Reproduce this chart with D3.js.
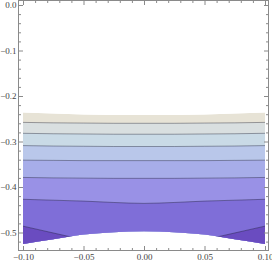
<!DOCTYPE html>
<html lang="en">
<head>
  <meta charset="UTF-8">
  <title>Contour plot</title>
  <script src="https://d3js.org/d3.v7.min.js"></script>
  <style>
    body { margin: 0; background: #fff; }
    .tick text { font-family: "Liberation Serif", "DejaVu Serif", serif; font-size: 9px; fill: #444; }
    .tick line { stroke: #8a8a8a; }
  </style>
</head>
<body>
  <svg width="272" height="263"></svg>

  <script>
    const xs = [-0.1, -0.075, -0.05, -0.025, 0, 0.025, 0.05, 0.075, 0.1];

    // upper and lower edge of the filled region
    const topEdge    = [-0.236, -0.2385, -0.2405, -0.2415, -0.242, -0.2415, -0.2405, -0.2385, -0.236];
    const bottomEdge = [-0.525, -0.5147, -0.5045, -0.4995, -0.497, -0.4995, -0.5045, -0.5147, -0.525];

    // contour lines, top to bottom
    const c1 = [-0.258, -0.259, -0.2595, -0.260, -0.260, -0.260, -0.2595, -0.259, -0.258];
    const c2 = [-0.282, -0.283, -0.2835, -0.284, -0.284, -0.284, -0.2835, -0.283, -0.282];
    const c3 = [-0.309, -0.310, -0.3105, -0.311, -0.311, -0.311, -0.3105, -0.310, -0.309];
    const c4 = [-0.341, -0.3415, -0.342, -0.342, -0.342, -0.342, -0.342, -0.3415, -0.341];
    const c5 = [-0.379, -0.380, -0.3805, -0.381, -0.381, -0.381, -0.3805, -0.380, -0.379];
    const c6 = [-0.427, -0.429, -0.431, -0.434, -0.436, -0.434, -0.431, -0.429, -0.427];
    const c7 = [-0.486, -0.501, -0.516, -0.531, -0.546, -0.531, -0.516, -0.501, -0.486];

    const bandColors = ["#e7e3d6", "#d9dfe0", "#c9dae6", "#b9c7ea", "#a7ade9", "#9991e6", "#7f6ed8", "#6a4cc0"];

    const xTicksMajor = [-0.1, -0.05, 0, 0.05, 0.1];
    const yTicksMajor = [0, -0.1, -0.2, -0.3, -0.4, -0.5];

    // frame box in pixels
    const frame = { left: 18.5, right: 268.5, top: 0.5, bottom: 250.5 };

    const x = d3.scaleLinear().domain([-0.1, 0.1]).range([23, 265]);
    const y = d3.scaleLinear().domain([0, -0.5]).range([5, 232.5]);

    const svg = d3.select("svg");

    const toPts = arr => arr.map((v, i) => [xs[i], v]);
    const yBottom = y.invert(frame.bottom);

    // clip everything to the region between the two edges
    svg.append("clipPath").attr("id", "region")
      .append("path")
      .attr("d", d3.area()
        .x(d => x(d[0]))
        .y0((d, i) => y(bottomEdge[i]))
        .y1(d => y(d[1]))
        .curve(d3.curveMonotoneX)(toPts(topEdge)));

    const g = svg.append("g").attr("clip-path", "url(#region)");

    const fillArea = d3.area()
      .x(d => x(d[0]))
      .y0(y(yBottom))
      .y1(d => y(d[1]))
      .curve(d3.curveMonotoneX);

    const bands = [topEdge, c1, c2, c3, c4, c5, c6, c7];
    bands.forEach((arr, i) => {
      g.append("path")
        .attr("d", fillArea(toPts(arr)))
        .attr("fill", bandColors[i]);
    });

    const line = d3.line()
      .x(d => x(d[0]))
      .y(d => y(d[1]))
      .curve(d3.curveMonotoneX);

    [c1, c2, c3, c4, c5, c6, c7].forEach(arr => {
      g.append("path")
        .attr("d", line(toPts(arr)))
        .attr("fill", "none")
        .attr("stroke", "rgba(20,20,40,0.38)")
        .attr("stroke-width", 1);
    });

    // frame
    svg.append("rect")
      .attr("x", frame.left).attr("y", frame.top)
      .attr("width", frame.right - frame.left)
      .attr("height", frame.bottom - frame.top)
      .attr("fill", "none")
      .attr("stroke", "#8a8a8a")
      .attr("stroke-width", 1);

    // minor ticks
    const xMinor = d3.range(-10, 11).map(k => k / 100).filter(v => Math.abs(v * 20 - Math.round(v * 20)) > 1e-6);
    const yMinor = d3.range(0, 27).map(k => -k / 50).filter(v => v >= -0.53 && Math.abs(v * 10 - Math.round(v * 10)) > 1e-6);

    const fmtX = d => d === 0 ? "0.00" : d3.format(".2f")(d).replace("-", "\u2212");
    const fmtY = d => d === 0 ? "0.0" : d3.format(".1f")(d).replace("-", "\u2212");

    function addAxis(axis, tx, ty) {
      const a = svg.append("g").attr("transform", `translate(${tx},${ty})`).call(axis);
      a.select(".domain").remove();
      return a;
    }

    // bottom
    addAxis(d3.axisBottom(x).tickValues(xTicksMajor).tickSize(-4.5).tickPadding(3).tickFormat(fmtX), 0, frame.bottom);
    addAxis(d3.axisBottom(x).tickValues(xMinor).tickSize(-2.5).tickFormat(""), 0, frame.bottom);
    // top
    addAxis(d3.axisTop(x).tickValues(xTicksMajor).tickSize(-4.5).tickFormat(""), 0, frame.top);
    addAxis(d3.axisTop(x).tickValues(xMinor).tickSize(-2.5).tickFormat(""), 0, frame.top);
    // left
    addAxis(d3.axisLeft(y).tickValues(yTicksMajor).tickSize(-4.5).tickPadding(2).tickFormat(fmtY), frame.left, 0);
    addAxis(d3.axisLeft(y).tickValues(yMinor).tickSize(-2.5).tickFormat(""), frame.left, 0);
    // right
    addAxis(d3.axisRight(y).tickValues(yTicksMajor).tickSize(-4.5).tickFormat(""), frame.right, 0);
    addAxis(d3.axisRight(y).tickValues(yMinor).tickSize(-2.5).tickFormat(""), frame.right, 0);
  </script>
</body>
</html>
